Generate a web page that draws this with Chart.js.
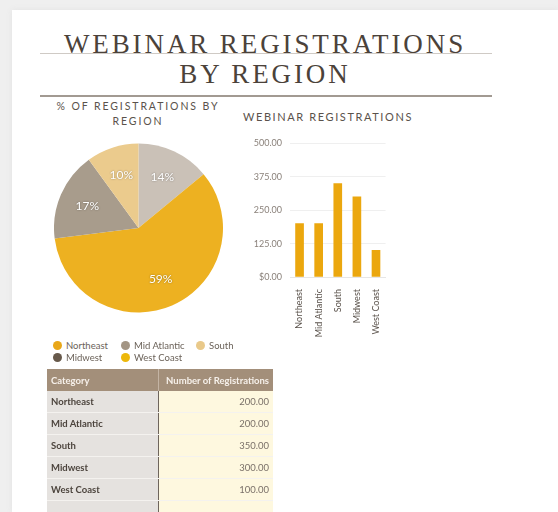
<!DOCTYPE html>
<html>
<head>
<meta charset="utf-8">
<script src="https://cdn.jsdelivr.net/npm/chart.js@4.4.0/dist/chart.umd.min.js"></script>
<style>
  html, body { margin: 0; padding: 0; }
  body { width: 558px; height: 512px; background: #efefef; position: relative; overflow: hidden; font-family: Lato, "Open Sans", sans-serif; }
  #card { position: absolute; left: 12px; top: 10px; width: 546px; height: 502px; background: #fff; box-shadow: 0 0 6px #e2e2e2; }
  .abs { position: absolute; }
  .title { font-family: "Liberation Serif", "DejaVu Serif", serif; font-size: 27px; letter-spacing: 2.9px; color: #4b423a; white-space: nowrap; }
  .sub { font-size: 10.5px; letter-spacing: 1.9px; color: #5a524b; text-align: center; line-height: 15px; }
  #legend { left: 48px; top: 340px; width: 230px; font-size: 9.5px; color: #6b6259; }
  .item { position: absolute; white-space: nowrap; }
  .dot { display: inline-block; width: 9px; height: 9px; border-radius: 50%; vertical-align: -1px; margin-right: 4px; }
  table { position: absolute; left: 47px; top: 369px; width: 226px; border-collapse: collapse; font-size: 9.5px; }
  th { background: #a38f7a; color: #f6f0ea; font-weight: bold; height: 22px; padding: 0 4px; }
  th:first-child { text-align: left; width: 103px; border-right: 1px solid #c4b4a4; }
  th:last-child { text-align: right; }
  td { height: 21px; padding: 0 4px; border-bottom: 1px solid #f4f2ef; }
  td:first-child { background: #e5e2df; color: #4c443d; font-weight: bold; border-right: 1px solid #6e655c; }
  td:last-child { background: #fef8df; color: #7a7068; text-align: right; }
</style>
</head>
<body>
<div id="card"></div>
<div class="abs" style="left:40px;top:53px;width:452px;height:1px;background:#cfcac5;"></div>
<div class="abs title" style="left:0;top:29px;width:530px;text-align:center;">WEBINAR REGISTRATIONS</div>
<div class="abs title" style="left:0;top:59px;width:530px;text-align:center;">BY REGION</div>
<div class="abs" style="left:40px;top:95px;width:452px;height:2px;background:#a29a92;"></div>
<div class="abs sub" style="left:48px;top:99px;width:180px;">% OF REGISTRATIONS BY<br>REGION</div>
<div class="abs sub" style="left:238px;top:109px;width:180px;letter-spacing:1.6px;font-size:11px;">WEBINAR REGISTRATIONS</div>

<div class="abs" style="left:54px;top:143px;width:169px;height:170px;"><canvas id="pie"></canvas></div>
<div class="abs" style="left:245px;top:130px;width:146px;height:215px;"><canvas id="bar"></canvas></div>

<div id="legend" class="abs"></div>
<table id="tbl"></table>

<script>
// data
const categories = ['Northeast', 'Mid Atlantic', 'South', 'Midwest', 'West Coast'];
const registrations = [200, 200, 350, 300, 100];
const legendColors = ['#e9a719', '#a39584', '#e9c98a', '#67594b', '#edb80b'];
const pieShares = [14, 59, 17, 10];
const pieColors = ['#cac1b7', '#edb121', '#a89c8c', '#ebcb8d'];
const yTicks = [0, 125, 250, 375, 500];

// slice labels
const sliceLabels = {
  id: 'sliceLabels',
  afterDatasetsDraw(chart) {
    const ctx = chart.ctx;
    const meta = chart.getDatasetMeta(0);
    ctx.save();
    ctx.font = '12px Lato';
    ctx.fillStyle = '#fff';
    ctx.textAlign = 'center';
    ctx.textBaseline = 'middle';
    ctx.shadowColor = 'rgba(0,0,0,0.4)';
    ctx.shadowBlur = 2;
    meta.data.forEach((arc, i) => {
      const p = arc.getProps(['x', 'y', 'startAngle', 'endAngle', 'outerRadius']);
      const mid = (p.startAngle + p.endAngle) / 2;
      const r = p.outerRadius * 0.66;
      ctx.fillText(pieShares[i] + '%', p.x + Math.cos(mid) * r, p.y + Math.sin(mid) * r);
    });
    ctx.restore();
  }
};

new Chart(document.getElementById('pie'), {
  type: 'pie',
  data: {
    labels: pieShares.map(v => v + '%'),
    datasets: [{ data: pieShares, backgroundColor: pieColors, borderWidth: 0 }]
  },
  options: {
    responsive: true,
    maintainAspectRatio: false,
    animation: false,
    plugins: { legend: { display: false }, tooltip: { enabled: false } }
  },
  plugins: [sliceLabels]
});

new Chart(document.getElementById('bar'), {
  type: 'bar',
  data: {
    labels: categories,
    datasets: [{ data: registrations, backgroundColor: '#eba70e', barThickness: 8 }]
  },
  options: {
    responsive: true,
    maintainAspectRatio: false,
    animation: false,
    layout: { padding: { top: 4, right: 2 } },
    plugins: { legend: { display: false }, tooltip: { enabled: false } },
    scales: {
      y: {
        min: 0, max: 500,
        afterBuildTicks: s => { s.ticks = yTicks.map(v => ({ value: v })); },
        afterFit: s => { s.width = 45; },
        grid: { color: '#efefef', drawTicks: false },
        border: { display: false },
        ticks: {
          padding: 8, color: '#8a817a', font: { size: 9, family: 'Lato' },
          callback: v => v === 0 ? '$0.00' : v.toFixed(2)
        }
      },
      x: {
        afterFit: s => { s.height = 68; },
        grid: { display: false },
        border: { color: '#e6e6e6' },
        ticks: { minRotation: 90, maxRotation: 90, padding: 4, color: '#5a524b', font: { size: 9, family: 'Lato' } }
      }
    }
  }
});

// legend
const legendPos = [[5, 0], [73, 0], [148, 0], [5, 12], [73, 12]];
const legend = document.getElementById('legend');
categories.forEach((c, i) => {
  const d = document.createElement('div');
  d.className = 'item';
  d.style.left = legendPos[i][0] + 'px';
  d.style.top = legendPos[i][1] + 'px';
  d.innerHTML = '<span class="dot" style="background:' + legendColors[i] + '"></span>' + c;
  legend.appendChild(d);
});

// table
const tbl = document.getElementById('tbl');
let html = '<tr><th>Category</th><th>Number of Registrations</th></tr>';
categories.forEach((c, i) => {
  html += '<tr><td>' + c + '</td><td>' + registrations[i].toFixed(2) + '</td></tr>';
});
html += '<tr><td></td><td></td></tr>';
tbl.innerHTML = html;
</script>
</body>
</html>
